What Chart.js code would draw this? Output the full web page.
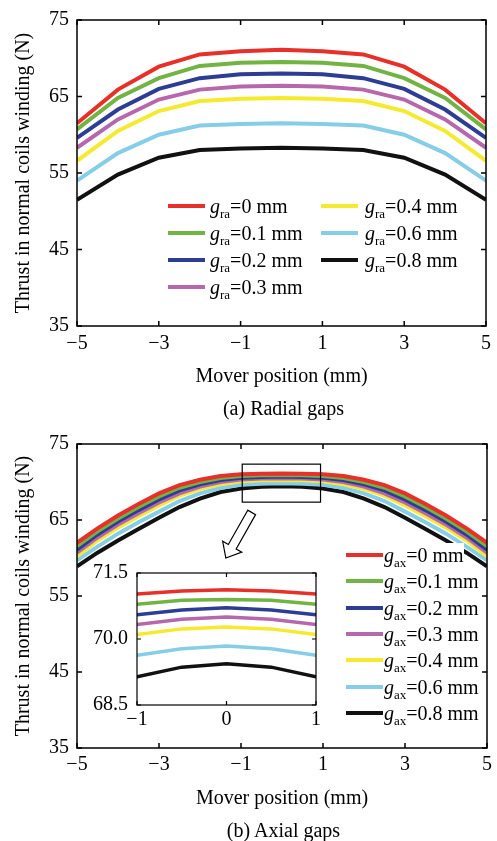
<!DOCTYPE html>
<html>
<head>
<meta charset="utf-8">
<script src="https://cdn.jsdelivr.net/npm/chart.js"></script>
<style>
  body { margin: 0; background: #fff; }
  #page { position: relative; width: 497px; height: 841px; font-family: "Liberation Serif", "DejaVu Serif", serif; color: #000; }
  canvas { position: absolute; }
  .cap { position: absolute; left: 77px; width: 413px; text-align: center; font-size: 20px; line-height: 24px; }
  .leg { position: absolute; height: 24px; display: inline-flex; align-items: center; font-size: 20px; line-height: 24px; white-space: nowrap; }
  .leg .sw { display: inline-block; width: 37px; height: 4px; }
  .leg i { font-style: italic; }
  .leg sub { font-size: 13px; vertical-align: -5px; line-height: 0; }
</style>
</head>
<body>
<div id="page">
  <canvas id="radial" width="497" height="400" style="left:0;top:0"></canvas>
  <div class="cap" style="top:396px">(a) Radial gaps</div>
  <canvas id="axial" width="497" height="400" style="left:0;top:424px"></canvas>
  <canvas id="inset" width="245" height="178" style="left:80px;top:552px"></canvas>
  <div class="cap" style="top:818px">(b) Axial gaps</div>
</div>
<script>
// gap sizes (mm) and line colours, same order for both plots
const gapLabels = ["0", "0.1", "0.2", "0.3", "0.4", "0.6", "0.8"];
const gapColors = ["#e8302a", "#72b443", "#2d3d92", "#b768ad", "#f5ea2e", "#86cde8", "#111111"];

// (a) radial gaps, 1 mm steps
const radialPos = [-5, -4, -3, -2, -1, 0, 1, 2, 3, 4, 5];
const radial0  = [61.5, 65.9, 68.9, 70.5, 70.9, 71.1, 70.9, 70.5, 68.9, 65.9, 61.5];
const radial01 = [60.7, 64.8, 67.4, 69.0, 69.4, 69.5, 69.4, 69.0, 67.4, 64.8, 60.7];
const radial02 = [59.6, 63.3, 66.0, 67.4, 67.9, 68.0, 67.9, 67.4, 66.0, 63.3, 59.6];
const radial03 = [58.3, 62.0, 64.6, 65.9, 66.3, 66.4, 66.3, 65.9, 64.6, 62.0, 58.3];
const radial04 = [56.6, 60.5, 63.1, 64.4, 64.7, 64.8, 64.7, 64.4, 63.1, 60.5, 56.6];
const radial06 = [54.0, 57.6, 60.0, 61.2, 61.4, 61.5, 61.4, 61.2, 60.0, 57.6, 54.0];
const radial08 = [51.5, 54.8, 57.0, 58.0, 58.2, 58.3, 58.2, 58.0, 57.0, 54.8, 51.5];

// (b) axial gaps, 0.5 mm steps
const axialPos = [-5, -4.5, -4, -3.5, -3, -2.5, -2, -1.5, -1, -0.5, 0, 0.5, 1, 1.5, 2, 2.5, 3, 3.5, 4, 4.5, 5];
const axial0  = [62.0, 63.9, 65.6, 67.1, 68.5, 69.6, 70.3, 70.78, 71.02, 71.09, 71.12, 71.09, 71.02, 70.78, 70.3, 69.6, 68.5, 67.1, 65.6, 63.9, 62.0];
const axial01 = [61.55, 63.5, 65.2, 66.7, 68.1, 69.25, 70.0, 70.53, 70.79, 70.88, 70.90, 70.88, 70.79, 70.53, 70.0, 69.25, 68.1, 66.7, 65.2, 63.5, 61.55];
const axial02 = [61.1, 63.1, 64.8, 66.3, 67.7, 68.9, 69.7, 70.25, 70.55, 70.66, 70.71, 70.66, 70.55, 70.25, 69.7, 68.9, 67.7, 66.3, 64.8, 63.1, 61.1];
const axial03 = [60.7, 62.7, 64.4, 65.9, 67.3, 68.5, 69.4, 70.0, 70.33, 70.45, 70.50, 70.45, 70.33, 70.0, 69.4, 68.5, 67.3, 65.9, 64.4, 62.7, 60.7];
const axial04 = [60.25, 62.3, 64.0, 65.5, 66.9, 68.2, 69.1, 69.7, 70.10, 70.23, 70.27, 70.23, 70.10, 69.7, 69.1, 68.2, 66.9, 65.5, 64.0, 62.3, 60.25];
const axial06 = [59.7, 61.5, 63.2, 64.7, 66.1, 67.5, 68.5, 69.2, 69.63, 69.78, 69.84, 69.78, 69.63, 69.2, 68.5, 67.5, 66.1, 64.7, 63.2, 61.5, 59.7];
const axial08 = [58.9, 60.7, 62.3, 63.8, 65.3, 66.7, 67.8, 68.68, 69.14, 69.36, 69.44, 69.36, 69.14, 68.68, 67.8, 66.7, 65.3, 63.8, 62.3, 60.7, 58.9];

// tick labels
const xTicks = [-5, -3, -1, 1, 3, 5];
const yTicks = [35, 45, 55, 65, 75];
const insetXTicks = [-1, 0, 1];
const insetYTicks = [68.5, 70.0, 71.5];

const radialSeries = [radial0, radial01, radial02, radial03, radial04, radial06, radial08];
const axialSeries = [axial0, axial01, axial02, axial03, axial04, axial06, axial08];

const serif = '"Liberation Serif", "DejaVu Serif", serif';
Chart.defaults.font.family = serif;
Chart.defaults.font.size = 20;
Chart.defaults.color = "#000";

function minus(v) {
  return v < 0 ? "\u2212" + Math.abs(v) : String(v);
}

function makeSets(pos, series, width) {
  return series.map((vals, i) => ({
    label: gapLabels[i],
    data: pos.map((p, k) => ({ x: p, y: vals[k] })),
    borderColor: gapColors[i],
    borderWidth: width,
    pointRadius: 0,
    tension: 0,
    fill: false
  }));
}

// box round the plot + inward ticks on all four sides
const frame = {
  id: "frame",
  beforeDatasetsDraw(chart, args, opts) {
    if (!opts.fill) return;
    const a = chart.chartArea;
    chart.ctx.save();
    chart.ctx.fillStyle = "#fff";
    chart.ctx.fillRect(a.left, a.top, a.width, a.height);
    chart.ctx.restore();
  },
  afterDraw(chart, args, opts) {
    const { ctx, chartArea: a, scales } = chart;
    const len = opts.tick || 5;
    ctx.save();
    ctx.strokeStyle = "#000";
    ctx.lineWidth = opts.width || 1.5;
    ctx.strokeRect(a.left, a.top, a.width, a.height);
    ctx.beginPath();
    scales.x.ticks.forEach(t => {
      const px = scales.x.getPixelForValue(t.value);
      ctx.moveTo(px, a.bottom); ctx.lineTo(px, a.bottom - len);
      ctx.moveTo(px, a.top); ctx.lineTo(px, a.top + len);
    });
    scales.y.ticks.forEach(t => {
      const py = scales.y.getPixelForValue(t.value);
      ctx.moveTo(a.left, py); ctx.lineTo(a.left + len, py);
      ctx.moveTo(a.right, py); ctx.lineTo(a.right - len, py);
    });
    ctx.stroke();
    ctx.restore();
  }
};

// zoom rectangle and hollow arrow on the axial plot
const zoomMark = {
  id: "zoomMark",
  afterDraw(chart) {
    const { ctx, scales: { x, y } } = chart;
    ctx.save();
    ctx.strokeStyle = "#000";
    ctx.lineWidth = 1.2;
    const x0 = x.getPixelForValue(-0.97), x1 = x.getPixelForValue(0.94);
    const y0 = y.getPixelForValue(72.35), y1 = y.getPixelForValue(67.35);
    ctx.strokeRect(x0, y0, x1 - x0, y1 - y0);

    const sx = x.getPixelForValue(-0.74), sy = y.getPixelForValue(66.0);
    const tx = x.getPixelForValue(-1.37), ty = y.getPixelForValue(60.0);
    const L = Math.hypot(tx - sx, ty - sy);
    const dx = (tx - sx) / L, dy = (ty - sy) / L;
    const nx = -dy, ny = dx;
    const hw = 4.5, hh = 11, hl = 13;
    const hx = tx - dx * hl, hy = ty - dy * hl;
    ctx.beginPath();
    ctx.moveTo(sx + nx * hw, sy + ny * hw);
    ctx.lineTo(hx + nx * hw, hy + ny * hw);
    ctx.lineTo(hx + nx * hh, hy + ny * hh);
    ctx.lineTo(tx, ty);
    ctx.lineTo(hx - nx * hh, hy - ny * hh);
    ctx.lineTo(hx - nx * hw, hy - ny * hw);
    ctx.lineTo(sx - nx * hw, sy - ny * hw);
    ctx.closePath();
    ctx.fillStyle = "#fff";
    ctx.fill();
    ctx.stroke();
    ctx.restore();
  }
};

function mainOptions(xPad, xTitlePad, xHeight) {
  return {
    responsive: false,
    animation: false,
    events: [],
    layout: { autoPadding: false, padding: { left: 0, right: 7, top: 18, bottom: 0 } },
    plugins: { legend: { display: false }, tooltip: { enabled: false }, frame: { tick: 5, width: 1.5 } },
    scales: {
      x: {
        type: "linear", min: -5, max: 5,
        grid: { display: false, drawTicks: false },
        border: { display: false },
        afterBuildTicks: s => { s.ticks = xTicks.map(v => ({ value: v })); },
        afterFit: s => { s.height = xHeight; },
        ticks: { padding: xPad, autoSkip: false, maxRotation: 0, callback: v => minus(v) },
        title: { display: true, text: "Mover position (mm)", padding: { top: 0, bottom: xTitlePad } }
      },
      y: {
        min: 35, max: 75,
        grid: { display: false, drawTicks: false },
        border: { display: false },
        afterBuildTicks: s => { s.ticks = yTicks.map(v => ({ value: v })); },
        afterFit: s => { s.width = 77; },
        ticks: { padding: 8 },
        title: { display: true, text: "Thrust in normal coils winding (N)", padding: { top: 12, bottom: 0 } }
      }
    }
  };
}

new Chart(document.getElementById("radial"), {
  type: "line",
  data: { datasets: makeSets(radialPos, radialSeries, 4) },
  options: mainOptions(6, 11, 74),
  plugins: [frame]
});

new Chart(document.getElementById("axial"), {
  type: "line",
  data: { datasets: makeSets(axialPos, axialSeries, 4) },
  options: mainOptions(5, 13, 76),
  plugins: [frame, zoomMark]
});

const insetSets = makeSets(axialPos, axialSeries, 3.5).map(d => Object.assign(d, { clip: 0 }));
new Chart(document.getElementById("inset"), {
  type: "line",
  data: { datasets: insetSets },
  options: {
    responsive: false,
    animation: false,
    events: [],
    layout: { autoPadding: false, padding: { left: 0, right: 9, top: 20, bottom: 0 } },
    plugins: { legend: { display: false }, tooltip: { enabled: false }, frame: { tick: 4, width: 1.2, fill: true } },
    scales: {
      x: {
        type: "linear", min: -1, max: 1,
        grid: { display: false, drawTicks: false },
        border: { display: false },
        afterBuildTicks: s => { s.ticks = insetXTicks.map(v => ({ value: v })); },
        afterFit: s => { s.height = 25; },
        ticks: { padding: 3, autoSkip: false, maxRotation: 0, callback: v => minus(v) }
      },
      y: {
        min: 68.5, max: 71.5,
        grid: { display: false, drawTicks: false },
        border: { display: false },
        afterBuildTicks: s => { s.ticks = insetYTicks.map(v => ({ value: v })); },
        afterFit: s => { s.width = 57; },
        ticks: { padding: 9, callback: v => v.toFixed(1) }
      }
    }
  },
  plugins: [frame]
});

// legends built from the same labels/colours
const page = document.getElementById("page");
function legendItem(i, sub, left, centerY, gap, white) {
  const el = document.createElement("div");
  el.className = "leg";
  el.style.left = left + "px";
  el.style.top = (centerY - 12) + "px";
  if (white) el.style.background = "#fff";
  el.innerHTML = '<span class="sw" style="background:' + gapColors[i] + ";margin-right:" + gap + 'px"></span>' +
    "<span><i>g</i><sub>" + sub + "</sub>=" + gapLabels[i] + " mm</span>";
  page.appendChild(el);
}
gapLabels.forEach((g, i) => {
  const col = i < 4 ? 0 : 1;
  const row = i < 4 ? i : i - 4;
  legendItem(i, "ra", col === 0 ? 168 : 321, 206 + 27 * row, col === 0 ? 5 : 7, false);
});
gapLabels.forEach((g, i) => {
  legendItem(i, "ax", 346, 555 + 26.3 * i, 1, true);
});
</script>
</body>
</html>
